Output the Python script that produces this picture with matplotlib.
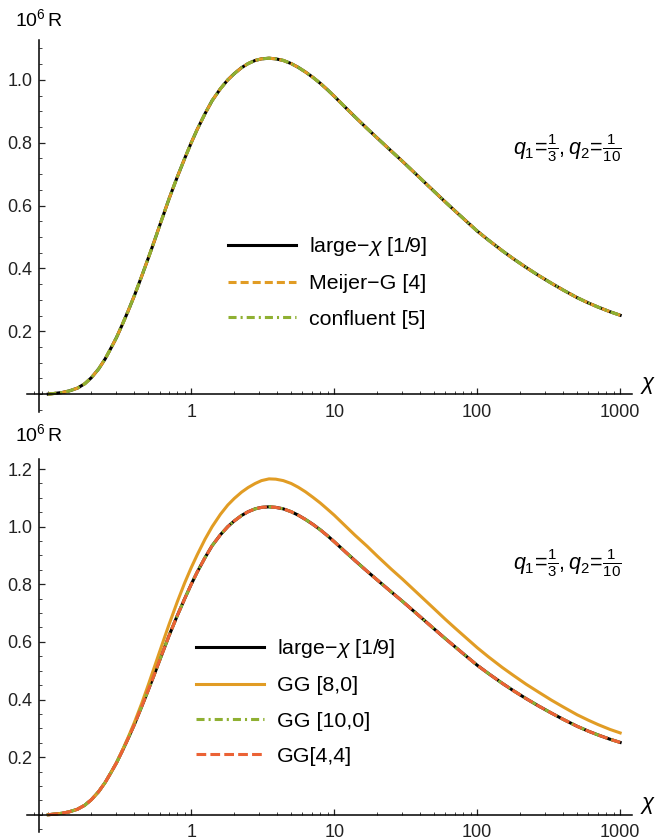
import numpy as np
import matplotlib
matplotlib.use("Agg")
import matplotlib.pyplot as plt
from matplotlib.ticker import FixedLocator, NullFormatter

plt.rcParams["font.family"] = ["Liberation Sans", "DejaVu Sans"]
plt.rcParams["mathtext.fontset"] = "custom"
plt.rcParams["mathtext.rm"] = "Liberation Sans"
plt.rcParams["mathtext.it"] = "Liberation Sans:italic"
plt.rcParams["lines.scale_dashes"] = False
plt.rcParams["lines.solid_joinstyle"] = "round"
plt.rcParams["lines.dash_joinstyle"] = "round"

# chi values and 10^6 R
chi = [0.1, 0.11, 0.125, 0.14, 0.16, 0.18, 0.2, 0.225, 0.25, 0.275, 0.3,
       0.33, 0.36, 0.4, 0.45, 0.5, 0.55, 0.6, 0.65, 0.7, 0.8, 0.9, 1.0,
       1.1, 1.25, 1.4, 1.6, 1.8, 2.0, 2.25, 2.5, 2.8, 3.1, 3.5, 3.9, 4.4,
       5.0, 5.6, 6.3, 7.1, 8.0, 9.0, 10, 12, 14, 17, 20, 25, 30, 40, 50,
       60, 70, 85, 100, 120, 150, 180, 220, 270, 330, 400, 500, 600, 700,
       850, 1000]
large_chi = [0.0, 0.002, 0.005, 0.010, 0.019, 0.033, 0.052, 0.080, 0.112,
             0.147, 0.180, 0.222, 0.262, 0.313, 0.375, 0.432, 0.485, 0.535,
             0.580, 0.622, 0.692, 0.750, 0.800, 0.842, 0.893, 0.934, 0.972,
             1.000, 1.020, 1.039, 1.052, 1.062, 1.067, 1.069, 1.067, 1.062,
             1.052, 1.040, 1.025, 1.008, 0.989, 0.968, 0.948, 0.912, 0.882,
             0.845, 0.815, 0.774, 0.741, 0.687, 0.645, 0.611, 0.583, 0.548,
             0.519, 0.490, 0.456, 0.430, 0.403, 0.377, 0.353, 0.331, 0.307,
             0.290, 0.277, 0.262, 0.251]
meijer = large_chi
confluent = large_chi
gg_10_0 = large_chi
gg_4_4 = large_chi
gg_8_0 = [0.0, 0.002, 0.005, 0.010, 0.019, 0.033, 0.052, 0.080, 0.112,
          0.147, 0.181, 0.224, 0.266, 0.320, 0.386, 0.450, 0.510, 0.565,
          0.615, 0.661, 0.740, 0.805, 0.858, 0.902, 0.957, 1.000, 1.043,
          1.075, 1.098, 1.120, 1.136, 1.150, 1.160, 1.166, 1.165, 1.160,
          1.150, 1.137, 1.121, 1.102, 1.082, 1.060, 1.040, 1.002, 0.970,
          0.932, 0.898, 0.853, 0.818, 0.760, 0.715, 0.678, 0.648, 0.611,
          0.580, 0.548, 0.511, 0.483, 0.453, 0.425, 0.398, 0.374, 0.347,
          0.328, 0.313, 0.296, 0.284]

BLACK = "#000000"
ORANGE = "#E19C24"
GREEN = "#8FB032"
RED = "#EB6235"
LW = 2.2

W, H = 659, 840
fig = plt.figure(figsize=(W / 100, H / 100), dpi=100)


def px_axes(x0, x1, y_top, y_bot):
    return fig.add_axes([x0 / W, 1 - y_bot / H, (x1 - x0) / W, (y_bot - y_top) / H])


def style(ax, ylim, yticks):
    ax.set_xscale("log")
    ax.set_xlim(0.071, 1210)
    ax.set_ylim(*ylim)
    for s in ("top", "right"):
        ax.spines[s].set_visible(False)
    ax.spines["left"].set_position(("data", 0.0865))
    ax.spines["bottom"].set_position(("data", 0))
    for s in ("left", "bottom"):
        ax.spines[s].set_linewidth(1.1)
    ax.xaxis.set_major_locator(FixedLocator([1, 10, 100, 1000]))
    ax.set_xticklabels(["1", "10", "100", "1000"])
    minors = [m * 10.0 ** e for e in range(-2, 3) for m in range(1, 10)
              if 0.075 < m * 10.0 ** e < 1000 and m * 10.0 ** e not in (1, 10, 100)]
    ax.xaxis.set_minor_locator(FixedLocator(minors))
    ax.xaxis.set_minor_formatter(NullFormatter())
    ax.set_yticks(yticks)
    ax.set_yticklabels([f"{v:.1f}" for v in yticks])
    ax.yaxis.set_minor_locator(FixedLocator(np.arange(-0.05, ylim[1], 0.05)))
    ax.tick_params(which="major", direction="in", length=4.5, width=0.9,
                   labelsize=13, colors="#222222")
    ax.tick_params(which="minor", direction="in", length=2.5, width=0.7,
                   colors="#444444")
    ax.tick_params(axis="x", pad=7)
    ax.tick_params(axis="y", pad=5)
    ax.patch.set_visible(False)


LEG = dict(bbox_transform=fig.transFigure, loc="upper left", frameon=False,
           fontsize=15.4, handlelength=3.2, handletextpad=0.6,
           labelspacing=0.76, borderpad=0, borderaxespad=0)

# top panel
ax1 = px_axes(27, 632, 40, 412)
style(ax1, (-0.057, 1.127), [0.2, 0.4, 0.6, 0.8, 1.0])
ax1.plot(chi, large_chi, color=BLACK, lw=LW, label=r"large$-\chi$ [1/9]")
ax1.plot(chi, meijer, color=ORANGE, lw=LW, dashes=(5.8, 2.9),
         label="Meijer\u2212G [4]")
ax1.plot(chi, confluent, color=GREEN, lw=LW, dashes=(5.8, 2.9, 1.5, 2.9),
         label="confluent [5]")
ax1.legend(bbox_to_anchor=(228 / W, 1 - 235 / H), **LEG)

# bottom panel
ax2 = px_axes(27, 632, 459, 832)
style(ax2, (-0.06, 1.235), [0.2, 0.4, 0.6, 0.8, 1.0, 1.2])
ax2.plot(chi, large_chi, color=BLACK, lw=LW, label=r"large$-\chi$ [1/9]")
ax2.plot(chi, gg_8_0, color=ORANGE, lw=LW, label="GG [8,0]")
ax2.plot(chi, gg_10_0, color=GREEN, lw=LW, dashes=(5.8, 2.9, 1.5, 2.9),
         label="GG [10,0]")
ax2.plot(chi, gg_4_4, color=RED, lw=LW, dashes=(7, 3), label="GG[4,4]")
ax2.legend(bbox_to_anchor=(196 / W, 1 - 637 / H), **LEG)

# axis titles and annotation
q_text = r"$q_1\!=\!\frac{1}{3},q_2\!=\!\frac{1}{10}$"
for y_lab, y_chi, y_q in ((19, 386, 148), (434, 806, 563)):
    fig.text(39 / W, 1 - y_lab / H, r"$10^{6}\,$R", ha="center", va="center",
             fontsize=14)
    fig.text(648 / W, 1 - y_chi / H, r"$\chi$", ha="center", va="center",
             fontsize=16)
    fig.text(567 / W, 1 - y_q / H, q_text, ha="center", va="center",
             fontsize=15.5)

fig.savefig("out.png", dpi=100)
